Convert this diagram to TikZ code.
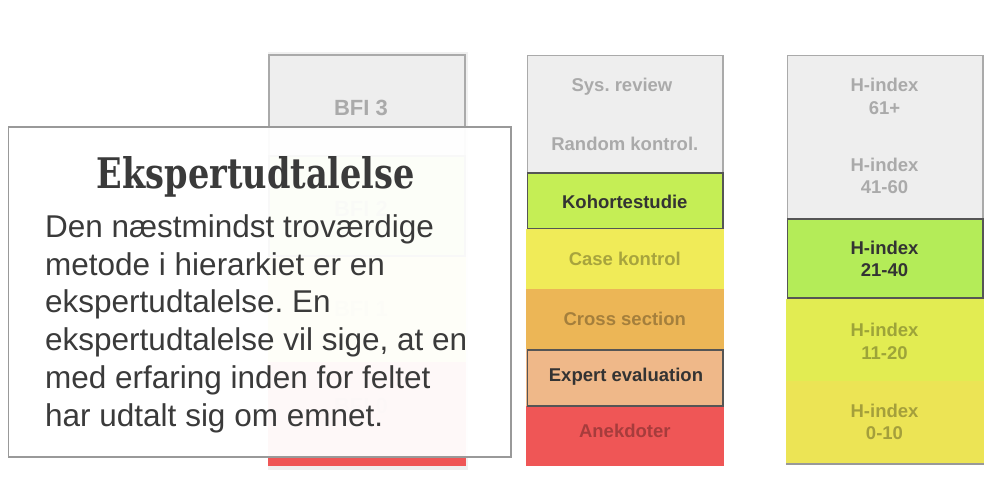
\documentclass[tikz,border=0pt]{standalone}
\usepackage{fontspec}
\setmainfont{Liberation Sans}
\newfontfamily\titlefont{DejaVu Serif}
\frenchspacing
\definecolor{cellgrey}{HTML}{EEEEEE}
\definecolor{colbg}{HTML}{F0F0F0}
\definecolor{greyline}{HTML}{AAAAAA}
\definecolor{darkline}{HTML}{555555}
\definecolor{darktext}{HTML}{333333}
\definecolor{bodytext}{HTML}{3A3A3A}
\definecolor{framegrey}{HTML}{999999}
\definecolor{limecell}{HTML}{C5EE55}
\definecolor{yellowcell}{HTML}{F0EB58}
\definecolor{orangecell}{HTML}{ECB656}
\definecolor{peachcell}{HTML}{EFB889}
\definecolor{redcell}{HTML}{EF5656}
\definecolor{hlime}{HTML}{B4EC58}
\definecolor{hyellow}{HTML}{E2EC52}
\definecolor{hgold}{HTML}{ECE455}
\begin{document}
\begin{tikzpicture}[x=1pt,y=-1pt,
  greyframe/.style={draw=greyline,line width=1.6pt},
  hiframe/.style={draw=darkline,line width=1.8pt},
  lbl/.style={inner sep=0pt,anchor=base,font=\fontsize{18.5}{22.5}\selectfont\bfseries},
  bfilbl/.style={inner sep=0pt,anchor=base,font=\fontsize{22}{26}\selectfont\bfseries},
  hlbl/.style={inner sep=0pt,anchor=center,align=center,font=\fontsize{18.5}{22.5}\selectfont\bfseries},
  onGrey/.style={text=greyline},
  onHi/.style={text=darktext},
  faded/.style={text=black,text opacity=0.3},
  bodyline/.style={inner sep=0pt,anchor=base west,text=bodytext,font=\fontsize{31.5}{37.75}\selectfont}]
\useasboundingbox (0,0) rectangle (990,482);
\fill[white] (0,0) rectangle (990,482);

% ---- BFI column ----
\fill[colbg] (267.5,52) rectangle (468,470);
\fill[cellgrey] (268,54) rectangle (466,155);
\fill[limecell] (268,155) rectangle (466,257);
\fill[yellowcell] (268,257) rectangle (466,362);
\fill[redcell] (268,362) rectangle (466,466);
\draw[greyframe] (268.8,154.6) -- (268.8,54.8) -- (465.2,54.8) -- (465.2,154.6);
\draw[hiframe] (268.9,155.9) rectangle (465.1,256.1);
\node[bfilbl,onGrey] (bfi3) at (361,115.5) {BFI 3};
\node[bfilbl,text=darktext,text opacity=0.5] (bfi2) at (361,216) {BFI 2};
\node[bfilbl,text=black,text opacity=0.2] (bfi1) at (361,316) {BFI 1};
\node[bfilbl,text=black,text opacity=0.2] (bfi0) at (361,413) {BFI 0};

% ---- study design column ----
\fill[cellgrey] (526.5,54.5) rectangle (723.5,172.5);
\fill[limecell] (526.5,172.3) rectangle (723.5,229.3);
\fill[yellowcell] (526,229.3) rectangle (724,289);
\fill[orangecell] (526,289) rectangle (724,349);
\fill[peachcell] (526,349) rectangle (724,406);
\fill[redcell] (526,406) rectangle (724,466);
\draw[greyframe] (527.3,172.3) -- (527.3,55.3) -- (722.7,55.3) -- (722.7,172.3);
\draw[hiframe] (527.4,173.2) rectangle (722.6,228.4);
\draw[hiframe] (527.4,349.9) rectangle (722.6,405.6);
\node[lbl,onGrey] (sys) at (622,91.5) {Sys. review};
\node[lbl,onGrey] (rct) at (624.8,150) {Random kontrol.};
\node[lbl,onHi] (koh) at (624.8,208.5) {Kohortestudie};
\node[lbl,faded] (cas) at (624.8,265.2) {Case kontrol};
\node[lbl,faded] (crs) at (624.8,325.5) {Cross section};
\node[lbl,onHi] (exp) at (626,381.8) {Expert evaluation};
\node[lbl,faded] (ane) at (624.8,437.5) {Anekdoter};

% ---- H-index column ----
\fill[cellgrey] (786.5,54.5) rectangle (983.5,217.7);
\fill[hlime] (786.5,217.7) rectangle (983.5,299);
\fill[hyellow] (786,299) rectangle (984,381);
\fill[hgold] (786,381) rectangle (984,463.5);
\draw[greyframe] (787.3,217.7) -- (787.3,55.3) -- (982.7,55.3) -- (982.7,217.7);
\draw[hiframe] (787.4,218.6) rectangle (982.6,298.1);
\draw[framegrey,line width=2pt] (786,464.4) -- (984,464.4);
\node[hlbl,onGrey] (h61) at (884.5,96.3) {H-index\\61+};
\node[hlbl,onGrey] (h41) at (884.5,175.8) {H-index\\41-60};
\node[hlbl,onHi] (h21) at (884.5,259) {H-index\\21-40};
\node[hlbl,faded] (h11) at (884.5,341.5) {H-index\\11-20};
\node[hlbl,faded] (h0) at (884.5,421.8) {H-index\\0-10};

% ---- info card ----
\draw[fill=white,fill opacity=0.96,draw=framegrey,line width=1.5pt] (8.5,127) rectangle (511,456.8);
\node[inner sep=0pt,anchor=base,text=bodytext] (title) at (256,188)
  {\resizebox{318pt}{32pt}{\titlefont\bfseries Ekspertudtalelse}};
\node[bodyline] (l1) at (45,237.3) {Den næstmindst troværdige};
\node[bodyline] (l2) at (45,275) {metode i hierarkiet er en};
\node[bodyline] (l3) at (45,312.7) {ekspertudtalelse. En};
\node[bodyline] (l4) at (45,350.4) {ekspertudtalelse vil sige, at en};
\node[bodyline] (l5) at (45,388.3) {med erfaring inden for feltet};
\node[bodyline] (l6) at (45,426) {har udtalt sig om emnet.};
\end{tikzpicture}
\end{document}
